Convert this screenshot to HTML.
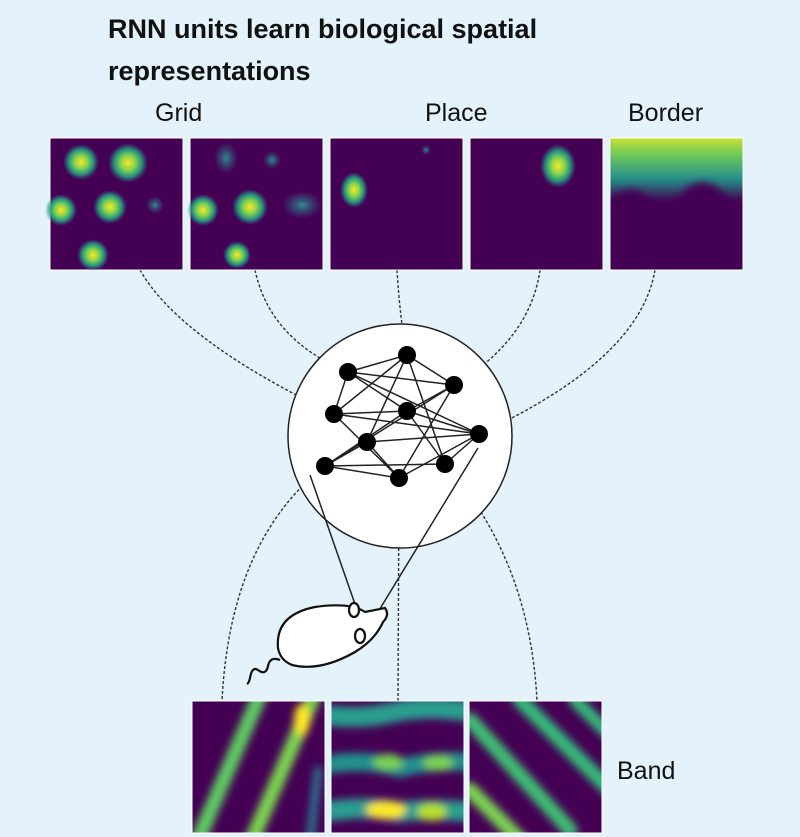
<!DOCTYPE html>
<html><head><meta charset="utf-8"><style>
body{margin:0;background:#e3f2fb;}
svg{display:block}
text{font-family:"Liberation Sans",sans-serif;fill:#111}
</style></head><body>
<svg width="800" height="837" viewBox="0 0 800 837">
<defs>
<radialGradient id="blob"><stop offset="0" stop-color="#fde725"/><stop offset="0.4" stop-color="#7ad151"/><stop offset="0.7" stop-color="#22a884" stop-opacity="0.85"/><stop offset="1" stop-color="#2a788e" stop-opacity="0"/></radialGradient>
<radialGradient id="blobf"><stop offset="0" stop-color="#2a9d8f" stop-opacity="0.9"/><stop offset="1" stop-color="#31688e" stop-opacity="0"/></radialGradient>
<filter id="bl" x="-20%" y="-20%" width="140%" height="140%"><feGaussianBlur stdDeviation="4"/></filter>
<linearGradient id="border" x1="0" y1="0" x2="0" y2="1"><stop offset="0" stop-color="#fde725"/><stop offset="0.3" stop-color="#7ad151"/><stop offset="0.7" stop-color="#21918c"/><stop offset="1" stop-color="#440154"/></linearGradient>
<clipPath id="c5"><rect x="610" y="138" width="133" height="132"/></clipPath>
<clipPath id="b1"><rect x="192" y="701" width="133" height="132"/></clipPath>
<clipPath id="b2"><rect x="331" y="701" width="133" height="132"/></clipPath>
<clipPath id="b3"><rect x="469" y="701" width="133" height="132"/></clipPath>
</defs>
<rect width="800" height="837" fill="#e3f2fb"/>
<text x="108" y="38" font-size="27" font-weight="bold">RNN units learn biological spatial</text>
<text x="108" y="80" font-size="27" font-weight="bold">representations</text>
<text x="155" y="121" font-size="25">Grid</text>
<text x="425" y="121" font-size="25">Place</text>
<text x="628" y="121" font-size="25">Border</text>
<text x="617" y="779" font-size="25">Band</text>

<g fill="none" stroke="#333" stroke-width="1.4" stroke-dasharray="3,2">
<path d="M140 270 Q180 340 334 414"/>
<path d="M255 270 Q270 340 348 372"/>
<path d="M397 270 Q400 320 407 355"/>
<path d="M540 270 Q530 340 454 385"/>
<path d="M655 270 Q640 360 479 434"/>
<path d="M325 466 Q230 540 222 701"/>
<path d="M399 478 L398 701"/>
<path d="M445 464 Q530 560 537 701"/>
</g>

<circle cx="400" cy="436" r="112" fill="#fff" stroke="#222" stroke-width="1.5"/>
<g stroke="#222" stroke-width="1.5">
<line x1="348" y1="372" x2="407" y2="355"/><line x1="348" y1="372" x2="454" y2="385"/><line x1="348" y1="372" x2="334" y2="414"/><line x1="348" y1="372" x2="407" y2="411"/><line x1="348" y1="372" x2="479" y2="434"/>
<line x1="407" y1="355" x2="454" y2="385"/><line x1="407" y1="355" x2="334" y2="414"/><line x1="407" y1="355" x2="445" y2="464"/><line x1="407" y1="355" x2="367" y2="442"/>
<line x1="454" y1="385" x2="407" y2="411"/><line x1="454" y1="385" x2="325" y2="466"/><line x1="454" y1="385" x2="399" y2="478"/>
<line x1="334" y1="414" x2="407" y2="411"/><line x1="334" y1="414" x2="399" y2="478"/><line x1="334" y1="414" x2="479" y2="434"/>
<line x1="407" y1="411" x2="479" y2="434"/><line x1="407" y1="411" x2="325" y2="466"/><line x1="407" y1="411" x2="445" y2="464"/>
<line x1="367" y1="442" x2="479" y2="434"/><line x1="367" y1="442" x2="399" y2="478"/><line x1="325" y1="466" x2="399" y2="478"/><line x1="325" y1="466" x2="445" y2="464"/><line x1="399" y1="478" x2="479" y2="434"/><line x1="445" y1="464" x2="479" y2="434"/><line x1="367" y1="442" x2="325" y2="466"/>
<line x1="310" y1="475" x2="356" y2="607"/><line x1="478" y1="448" x2="378" y2="612"/>
</g>
<g fill="#000">
<circle cx="348" cy="372" r="9"/><circle cx="407" cy="355" r="9"/><circle cx="454" cy="385" r="9"/><circle cx="334" cy="414" r="9"/><circle cx="407" cy="411" r="9"/><circle cx="367" cy="442" r="9"/><circle cx="479" cy="434" r="9"/><circle cx="325" cy="466" r="9"/><circle cx="399" cy="478" r="9"/><circle cx="445" cy="464" r="9"/>
</g>

<g stroke="#111" stroke-width="2.2" fill="#fff">
<path d="M280 660 q-10 -4 -12 6 q-2 10 -10 4 q-6 -4 -8 8 q-1 5 -3 6" fill="none"/>
<path d="M278 648 Q275 615 315 607 Q350 602 365 612 L385 608 Q390 615 383 622 Q375 640 355 652 Q320 672 292 665 Q280 660 278 648Z"/>
<ellipse cx="354" cy="610" rx="5" ry="7"/><ellipse cx="360" cy="636" rx="5" ry="7"/>
</g>

<g>
<rect x="50" y="138" width="133" height="132" fill="#440154" stroke="#fff"/>
<circle cx="81" cy="162" r="18" fill="url(#blob)"/><circle cx="128" cy="163" r="20" fill="url(#blob)"/><circle cx="61" cy="210" r="16" fill="url(#blob)"/><circle cx="110" cy="207" r="17" fill="url(#blob)"/><circle cx="93" cy="255" r="16" fill="url(#blob)"/><circle cx="155" cy="205" r="9" fill="url(#blobf)"/>
</g>
<g>
<rect x="190" y="138" width="133" height="132" fill="#440154" stroke="#fff"/>
<ellipse cx="226" cy="158" rx="12" ry="16" fill="url(#blobf)"/><circle cx="272" cy="160" r="9" fill="url(#blobf)"/><circle cx="250" cy="207" r="18" fill="url(#blob)"/><circle cx="203" cy="210" r="16" fill="url(#blob)"/><circle cx="237" cy="255" r="14" fill="url(#blob)"/><ellipse cx="302" cy="205" rx="20" ry="14" fill="url(#blobf)"/>
</g>
<g>
<rect x="330" y="138" width="133" height="132" fill="#440154" stroke="#fff"/>
<ellipse cx="354" cy="190" rx="14" ry="18" fill="url(#blob)"/><circle cx="426" cy="150" r="5" fill="url(#blobf)"/>
</g>
<g>
<rect x="470" y="138" width="133" height="132" fill="#440154" stroke="#fff"/>
<ellipse cx="558" cy="166" rx="18" ry="22" fill="url(#blob)"/>
</g>
<g clip-path="url(#c5)">
<rect x="610" y="138" width="133" height="132" fill="#440154"/>
<path d="M605 130 H750 V195 Q735 205 715 185 Q695 175 680 195 Q655 205 640 190 Q625 185 605 200Z" fill="url(#border)" filter="url(#bl)"/>
</g>
<rect x="610" y="138" width="133" height="132" fill="none" stroke="#fff"/>

<g clip-path="url(#b1)">
<rect x="192" y="701" width="133" height="132" fill="#440154"/>
<g filter="url(#bl)" stroke-linecap="round" fill="none">
<line x1="198" y1="840" x2="262" y2="690" stroke="#5ec962" stroke-width="15"/>
<line x1="252" y1="840" x2="312" y2="700" stroke="#7ad151" stroke-width="15"/>
<ellipse cx="302" cy="720" rx="8" ry="16" fill="#fde725" stroke="none"/>
<line x1="310" y1="840" x2="318" y2="770" stroke="#2a788e" stroke-width="8"/>
</g></g>
<g clip-path="url(#b2)">
<rect x="331" y="701" width="133" height="132" fill="#440154"/>
<g filter="url(#bl)" fill="none">
<path d="M325 715 Q360 720 395 712 Q430 705 470 712" stroke="#2a9d8f" stroke-width="20"/>
<path d="M325 765 Q365 758 400 768 Q430 760 470 762" stroke="#21918c" stroke-width="18"/>
<path d="M325 812 Q365 805 400 812 Q430 808 470 812" stroke="#2a9d8f" stroke-width="20"/>
<ellipse cx="386" cy="810" rx="20" ry="9" fill="#fde725"/><ellipse cx="432" cy="812" rx="15" ry="9" fill="#b5de2b"/>
<ellipse cx="388" cy="762" rx="15" ry="8" fill="#7ad151"/><ellipse cx="438" cy="763" rx="15" ry="8" fill="#7ad151"/>
</g></g>
<g clip-path="url(#b3)">
<rect x="469" y="701" width="133" height="132" fill="#440154"/>
<g filter="url(#bl)" stroke-linecap="round" fill="none">
<line x1="470" y1="790" x2="520" y2="840" stroke="#7ad151" stroke-width="15"/>
<line x1="470" y1="720" x2="570" y2="830" stroke="#3fbc73" stroke-width="15"/>
<line x1="520" y1="700" x2="610" y2="790" stroke="#35b779" stroke-width="15"/>
<line x1="575" y1="700" x2="610" y2="735" stroke="#35b779" stroke-width="13"/>
</g></g>
<g fill="none" stroke="#fff">
<rect x="192" y="701" width="133" height="132"/><rect x="331" y="701" width="133" height="132"/><rect x="469" y="701" width="133" height="132"/>
</g>
</svg>
</body></html>
